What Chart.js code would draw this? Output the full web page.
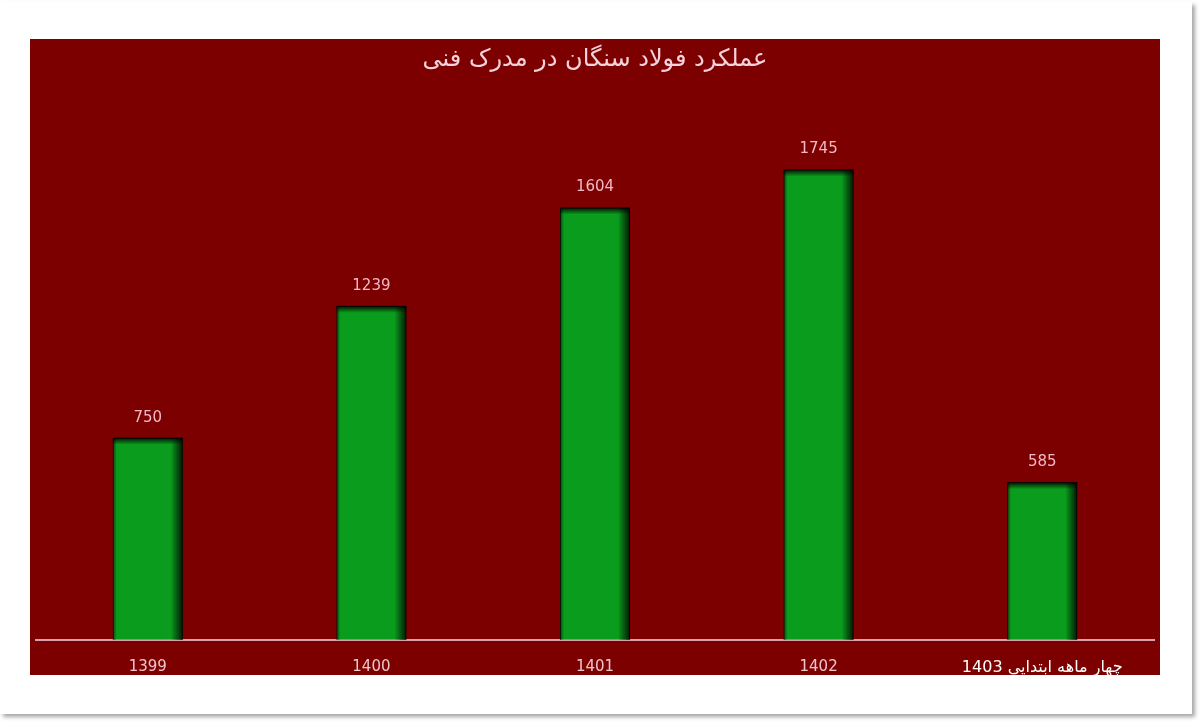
<!DOCTYPE html>
<html>
<head>
<meta charset="utf-8">
<script src="https://cdn.jsdelivr.net/npm/chart.js@4"></script>
<style>
  html, body { margin: 0; padding: 0; background: #fff; }
  body { width: 1200px; height: 728px; position: relative; overflow: hidden; }
  #frame {
    position: absolute; left: 0; top: 2px; width: 1192px; height: 712px;
    background: #fff; box-shadow: 3px 3px 4px rgba(0,0,0,0.35);
  }
  #panel {
    position: absolute; left: 30px; top: 39px; width: 1130px; height: 636px;
    background: #7d0000; overflow: hidden;
  }
</style>
</head>
<body>
<div id="frame"></div>
<div id="panel"><canvas id="chart" width="1130" height="636"></canvas></div>
<script>
const titleText = 'عملکرد فولاد سنگان در مدرک فنی';
const categories = ['1399', '1400', '1401', '1402', 'چهار ماهه ابتدایی 1403'];
const values = [750, 1239, 1604, 1745, 585];

// labels above bars + bar edge shading
const barDecor = {
  id: 'barDecor',
  afterDatasetsDraw(chart) {
    const ctx = chart.ctx;
    const meta = chart.getDatasetMeta(0);
    meta.data.forEach((bar, i) => {
      const left = bar.x - bar.width / 2;
      const right = bar.x + bar.width / 2;
      const top = bar.y;
      const bottom = bar.base;
      ctx.save();
      let g = ctx.createLinearGradient(right - 12, 0, right, 0);
      g.addColorStop(0, 'rgba(0,0,0,0)');
      g.addColorStop(1, 'rgba(0,0,0,0.85)');
      ctx.fillStyle = g;
      ctx.fillRect(right - 12, top, 12, bottom - top);
      g = ctx.createLinearGradient(left, 0, left + 4, 0);
      g.addColorStop(0, 'rgba(0,0,0,0.55)');
      g.addColorStop(1, 'rgba(0,0,0,0)');
      ctx.fillStyle = g;
      ctx.fillRect(left, top, 4, bottom - top);
      g = ctx.createLinearGradient(0, top, 0, top + 7);
      g.addColorStop(0, 'rgba(0,0,0,0.9)');
      g.addColorStop(1, 'rgba(0,0,0,0)');
      ctx.fillStyle = g;
      ctx.fillRect(left, top, right - left, 7);

      ctx.fillStyle = '#f2b8c6';
      ctx.font = '15px "DejaVu Sans"';
      ctx.textAlign = 'center';
      ctx.textBaseline = 'middle';
      ctx.fillText(String(values[i]), bar.x, top - 20);
      ctx.restore();
    });
  }
};

new Chart(document.getElementById('chart'), {
  type: 'bar',
  data: {
    labels: categories,
    datasets: [{
      data: values,
      backgroundColor: '#0a9c1c',
      borderColor: '#0c2a06',
      borderWidth: 1,
      categoryPercentage: 1,
      barPercentage: 0.313
    }]
  },
  options: {
    responsive: false,
    animation: false,
    layout: { padding: { left: 6, right: 6, top: 0, bottom: -20 } },
    plugins: {
      legend: { display: false },
      tooltip: { enabled: false },
      title: {
        display: true,
        text: titleText,
        color: '#f6d3dc',
        font: { family: '"DejaVu Sans"', size: 24, weight: 'normal' },
        padding: { top: 6, bottom: 27 }
      }
    },
    scales: {
      y: {
        display: false,
        min: 0,
        max: 2000
      },
      x: {
        grid: { display: true, color: 'rgba(0,0,0,0)', drawTicks: false },
        border: { display: true, color: '#d8a2ac', width: 2 },
        ticks: {
          padding: 18,
          color: (c) => c.index === 4 ? '#ffffff' : '#f0c4cc',
          font: (c) => ({ family: '"DejaVu Sans"', size: c.index === 4 ? 16 : 15 })
        }
      }
    }
  },
  plugins: [barDecor]
});
</script>
</body>
</html>
